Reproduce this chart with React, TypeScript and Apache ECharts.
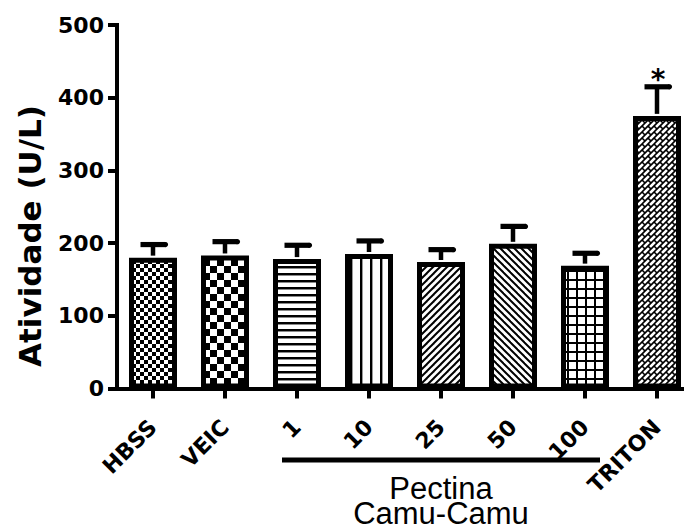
import React, { useEffect, useRef } from "react";
import * as echarts from "echarts";

const categories = ["HBSS", "VEIC", "1", "10", "25", "50", "100", "TRITON"];
const means = [180, 183, 178, 185, 174, 199, 169, 375];
const sems = [18, 19, 19, 18, 17, 24, 17, 40];
const marks = ["", "", "", "", "", "", "", "*"];
const patternKinds = ["fineChecker", "checker", "hlines", "vlines", "diagUp", "diagDown", "grid", "brick"];
const yMin = 0;
const yMax = 500;
const yStep = 100;
const yTitle = "Atividade (U/L)";
const groupLabel = "Pectina\nCamu-Camu";
const groupFrom = "1";
const groupTo = "100";

function makePattern(kind: string) {
  const c = document.createElement("canvas");
  let w = 8;
  let h = 8;
  if (kind === "checker") { w = 14; h = 14; }
  if (kind === "hlines") { w = 7; h = 7; }
  if (kind === "vlines") { w = 10; h = 10; }
  if (kind === "grid") { w = 9; h = 9; }
  if (kind === "diagUp" || kind === "diagDown") { w = 7; h = 7; }
  if (kind === "brick") { w = 12; h = 12; }
  c.width = w;
  c.height = h;
  const ctx = c.getContext("2d")!;
  ctx.fillStyle = "#fff";
  ctx.fillRect(0, 0, w, h);
  ctx.fillStyle = "#000";
  ctx.strokeStyle = "#000";
  if (kind === "fineChecker") {
    ctx.fillRect(0, 0, 4, 4);
    ctx.fillRect(4, 4, 4, 4);
  } else if (kind === "checker") {
    ctx.fillRect(0, 0, 7, 7);
    ctx.fillRect(7, 7, 7, 7);
  } else if (kind === "hlines") {
    ctx.fillRect(0, 0, w, 2);
    ctx.fillStyle = "#888";
    ctx.fillRect(0, 2, w, 1);
  } else if (kind === "vlines") {
    ctx.fillRect(0, 0, 2, h);
    ctx.fillStyle = "#999";
    ctx.fillRect(2, 0, 1, h);
  } else if (kind === "grid") {
    ctx.fillRect(0, 0, w, 2);
    ctx.fillRect(0, 0, 2, h);
  } else if (kind === "diagUp") {
    ctx.lineWidth = 2;
    for (const k of [0, 7, 14]) {
      ctx.beginPath();
      ctx.moveTo(k - 20, 20);
      ctx.lineTo(k + 20, -20);
      ctx.stroke();
    }
  } else if (kind === "diagDown") {
    ctx.lineWidth = 2;
    for (const k of [-7, 0, 7]) {
      ctx.beginPath();
      ctx.moveTo(k - 20, -20);
      ctx.lineTo(k + 20, 20);
      ctx.stroke();
    }
  } else if (kind === "brick") {
    ctx.lineWidth = 1.6;
    for (const k of [0, 6, 12, 18, 24]) {
      ctx.beginPath();
      ctx.moveTo(k - 30, 30);
      ctx.lineTo(k + 30, -30);
      ctx.stroke();
    }
    for (let s = -1; s < 5; s++) {
      const off = ((s % 2) + 2) % 2 === 0 ? 0 : 6;
      for (let d = -36 + off; d <= 36; d += 12) {
        const s0 = 6 * s;
        const s1 = 6 * s + 6;
        ctx.beginPath();
        ctx.moveTo((s0 + d) / 2, (s0 - d) / 2);
        ctx.lineTo((s1 + d) / 2, (s1 - d) / 2);
        ctx.stroke();
      }
    }
  }
  return { image: c, repeat: "repeat", imageWidth: w, imageHeight: h };
}

export default function App() {
  const ref = useRef<HTMLDivElement>(null);
  useEffect(() => {
    const chart = echarts.init(ref.current!, null, { renderer: "svg" });
    const boldFont = "DejaVu Sans";
    const option: any = {
      animation: false,
      backgroundColor: "#fff",
      grid: { left: 117, top: 25, right: 0, bottom: 142.5 },
      xAxis: {
        type: "category",
        data: categories,
        axisLine: { show: true, lineStyle: { color: "#000", width: 4, cap: "square" } },
        axisTick: { show: true, alignWithLabel: true, length: 10, lineStyle: { color: "#000", width: 4 } },
        axisLabel: {
          interval: 0,
          rotate: 45,
          margin: 35,
          color: "#000",
          fontFamily: boldFont,
          fontWeight: "bold",
          fontSize: 22,
        },
        splitLine: { show: false },
      },
      yAxis: {
        type: "value",
        min: yMin,
        max: yMax,
        interval: yStep,
        axisLine: { show: true, lineStyle: { color: "#000", width: 4, cap: "square" } },
        axisTick: { show: true, length: 9, lineStyle: { color: "#000", width: 4 } },
        axisLabel: { margin: 13, color: "#000", fontFamily: boldFont, fontWeight: "bold", fontSize: 22 },
        splitLine: { show: false },
      },
      series: [
        {
          type: "bar",
          barWidth: 48,
          data: means.map((v, i) => ({ value: v, itemStyle: { color: makePattern(patternKinds[i]) } })),
          itemStyle: { borderColor: "#000", borderWidth: 5 },
          z: 2,
        },
        {
          type: "custom",
          z: 3,
          data: means.map((m, i) => [i, m, sems[i]]),
          renderItem: (params: any, api: any) => {
            const idx = api.value(0);
            const m = api.value(1);
            const e = api.value(2);
            const top = api.coord([idx, m]);
            const cap = api.coord([idx, m + e]);
            const x = top[0];
            const children: any[] = [
              { type: "rect", shape: { x: x - 2.25, y: cap[1], width: 4.5, height: top[1] - cap[1] - 2 }, style: { fill: "#000" } },
              { type: "rect", shape: { x: x - 12.5, y: cap[1] - 2.6, width: 25, height: 5.2 }, style: { fill: "#000" } },
              { type: "circle", shape: { cx: x + 12.5, cy: cap[1], r: 2.6 }, style: { fill: "#000" } },
            ];
            const mk = marks[params.dataIndex];
            if (mk) {
              children.push({
                type: "text",
                x: x + 1,
                y: cap[1] - 7,
                style: {
                  text: mk,
                  fill: "#000",
                  font: 'bold 28px "DejaVu Sans"',
                  align: "center",
                  verticalAlign: "middle",
                  textAlign: "center",
                  textVerticalAlign: "middle",
                },
              });
            }
            return { type: "group", children };
          },
        },
      ],
    };
    chart.setOption(option);
    const p1 = chart.convertToPixel({ xAxisIndex: 0 }, groupFrom) as number;
    const p2 = chart.convertToPixel({ xAxisIndex: 0 }, groupTo) as number;
    const mid = (p1 - 15 + p2 + 15) / 2;
    chart.setOption({
      graphic: [
        {
          type: "text",
          x: 30,
          y: 236,
          rotation: Math.PI / 2,
          style: { text: yTitle, fill: "#000", font: 'bold 31px "DejaVu Sans"', textAlign: "center", textVerticalAlign: "middle" },
        },
        {
          type: "rect",
          shape: { x: p1 - 15, y: 457.5, width: p2 - p1 + 30, height: 5 },
          style: { fill: "#000" },
        },
        {
          type: "text",
          x: mid,
          y: 501,
          style: { text: groupLabel, fill: "#000", font: '31px "Liberation Sans"', lineHeight: 25, textAlign: "center", textVerticalAlign: "middle" },
        },
      ],
    });
    return () => chart.dispose();
  }, []);
  return <div ref={ref} style={{ position: "fixed", left: 0, top: 0, width: 693, height: 531 }} />;
}
